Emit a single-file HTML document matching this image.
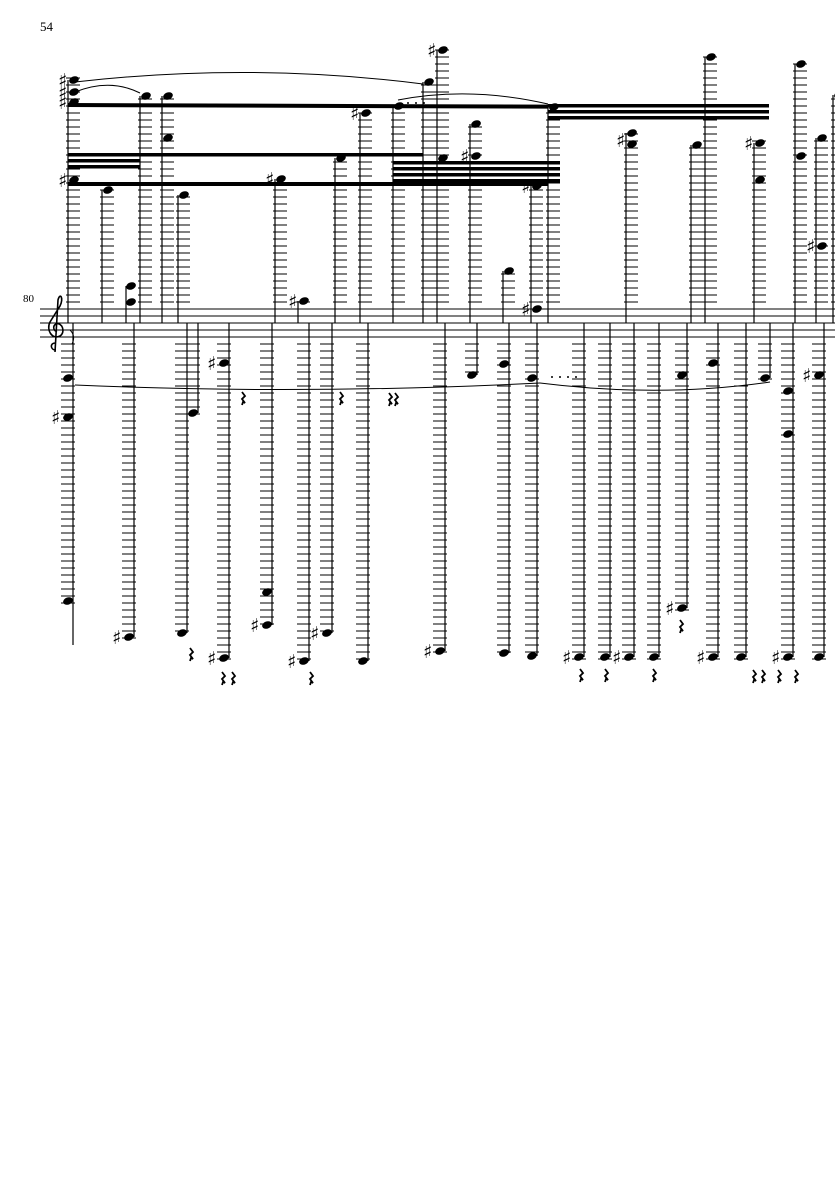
<!DOCTYPE html>
<html><head><meta charset="utf-8"><style>
html,body{margin:0;padding:0;background:#fff;width:835px;height:1181px;overflow:hidden}
svg{display:block}
</style></head><body>
<svg id="s" width="835" height="1181" viewBox="0 0 835 1181" xmlns="http://www.w3.org/2000/svg">
<text x="40" y="31" font-family="Liberation Serif, serif" font-size="13">54</text>
<text x="23" y="302" font-family="Liberation Serif, serif" font-size="11">80</text>
<g stroke="#000" stroke-width="1">
<line x1="40" y1="309" x2="835" y2="309"/><line x1="40" y1="316" x2="835" y2="316"/>
<line x1="40" y1="323" x2="835" y2="323"/><line x1="40" y1="330" x2="835" y2="330"/>
<line x1="40" y1="337" x2="835" y2="337"/>
</g>
<path d="M56 350 C50 350 50 343 55 343 M55 352 L58 300 C60 292 64 298 60 306 L50 322 C46 330 52 340 60 336 C66 332 62 322 56 324 C52 326 54 332 57 331" fill="none" stroke="#000" stroke-width="1.6"/>
<g fill="none" stroke="#000" stroke-width="1">
<path d="M75 82 Q250 62 423 84"/>
<path d="M75 92 Q110 78 140 93"/>
<path d="M398 100 Q470 86 548 104"/>
<path d="M75 385 Q300 395 540 383"/>
<path d="M540 383 Q660 398 770 382"/>
</g>
<g fill="#000">
<rect x="68" y="103" width="480" height="4" transform="rotate(0.2 68 103)"/>
<rect x="68" y="153" width="72" height="3.5"/><rect x="68" y="159" width="72" height="3.5"/><rect x="68" y="165" width="72" height="3.5"/>
<rect x="140" y="153" width="283" height="3.5"/>
<rect x="68" y="182" width="480" height="4"/>
<rect x="393" y="161" width="167" height="3.5"/><rect x="393" y="167" width="167" height="3.5"/><rect x="393" y="173" width="167" height="3.5"/><rect x="393" y="179" width="167" height="3.5"/>
<rect x="548" y="104" width="221" height="3.5"/><rect x="548" y="110" width="221" height="3.5"/><rect x="548" y="116" width="221" height="3.5"/>
<circle cx="424" cy="103" r="1"/><circle cx="416" cy="103" r="1"/><circle cx="408" cy="103" r="1"/>
<circle cx="552" cy="377" r="1"/><circle cx="560" cy="377" r="1"/><circle cx="568" cy="377" r="1"/><circle cx="576" cy="377" r="1"/>
</g>
<g id="g"></g>
</svg>
<script>
var g=document.getElementById('g'),h='';
function L(x1,y1,x2,y2,w){h+='<line x1="'+x1+'" y1="'+y1+'" x2="'+x2+'" y2="'+y2+'" stroke="#000" stroke-width="'+(w||1)+'"/>';}
function N(x,y){h+='<ellipse cx="'+x+'" cy="'+y+'" rx="5" ry="3.6" transform="rotate(-20 '+x+' '+y+')" fill="#000"/>';}
function S(x,y){h+='<text x="'+(x-2)+'" y="'+(y+7)+'" font-family="DejaVu Sans, sans-serif" font-size="19" font-weight="bold">\u266F</text>';}
function R(x,y){h+='<path d="M'+x+' '+y+' l3 4 l-3 3 l3 4 l-2 -1 l-1 3" fill="none" stroke="#000" stroke-width="1.8"/>';}
var U=[[68,[80,92,102,180],[80,92,102,180]],[102,[190]],[140,[96]],[162,[96,138]],[178,[195]],[275,[179],[179]],[298,[301],[301]],[335,[158]],[360,[113],[113]],[393,[106]],[423,[82]],[437,[50,158],[50]],[470,[124,156],[156]],[503,[271]],[531,[186,309],[186,309]],[548,[107]],[626,[133,144],[140]],[691,[145]],[705,[57]],[754,[143,180],[143]],[795,[64,156]],[816,[138,246],[246]],[833,[95]]];
U.forEach(function(c){var x=c[0],t=Math.min.apply(null,c[1]);
 for(var y=302;y>=t-2;y-=7)L(x-2,y,x+12,y);
 L(x,t,x,323,1.2);c[1].forEach(function(y){N(x+6,y)});(c[2]||[]).forEach(function(y){S(x-8,y)});});
L(126,286,126,323,1.2);N(131,286);N(131,302);
var D=[[73,[378,417,601],[417]],[134,[637],[637]],[187,[633]],[198,[413]],[229,[363,658],[363,658]],[272,[592,625],[625]],[309,[661],[661]],[332,[633],[633]],[368,[661]],[445,[651],[651]],[477,[375]],[509,[364,653]],[537,[378,656]],[584,[657],[657]],[610,[657]],[634,[657],[657]],[659,[657]],[687,[375,608],[608]],[718,[363,657],[657]],[746,[657]],[770,[378]],[793,[391,434,657],[657]],[824,[375,657],[375]]];
D.forEach(function(c){var x=c[0],b=Math.max.apply(null,c[1]);
 for(var y=344;y<=b+2;y+=7)L(x-12,y,x+2,y);
 L(x,323,x,b,1.2);c[1].forEach(function(y){N(x-5,y)});(c[2]||[]).forEach(function(y){S(x-20,y)});});
L(73,601,73,645,1.2);
[[242,392],[340,392],[389,393],[395,393],[190,648],[222,672],[232,672],[310,672],[580,669],[605,669],[653,669],[680,620],[753,670],[762,670],[778,670],[795,670]].forEach(function(r){R(r[0],r[1])});
h+='<path d="M70 330 q6 6 2 14" fill="none" stroke="#000"/>';
g.innerHTML=h;
</script>
</body></html>
